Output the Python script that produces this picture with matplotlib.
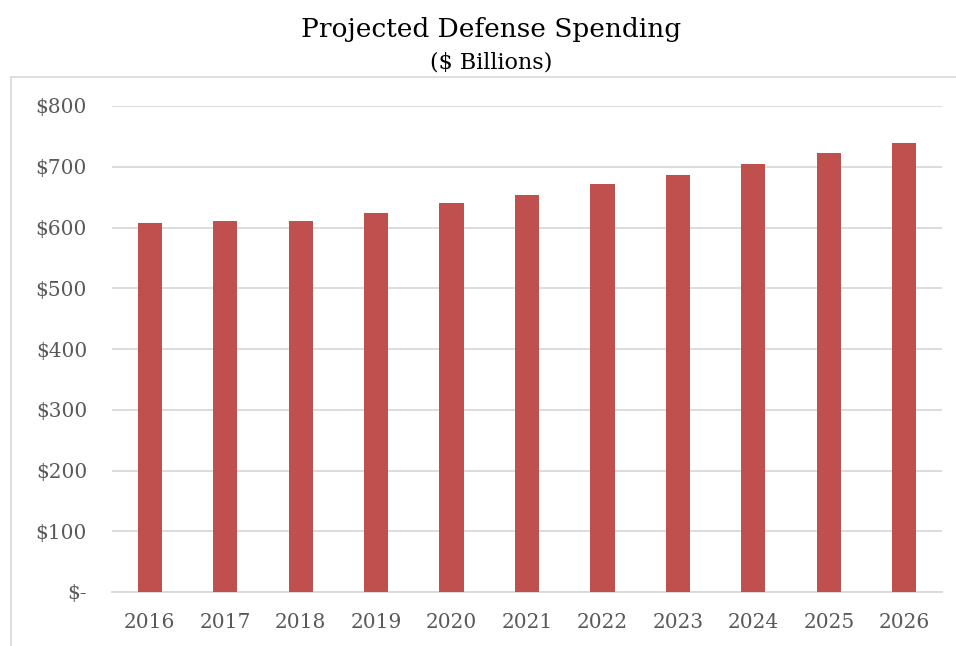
import matplotlib
matplotlib.use("Agg")
import matplotlib.pyplot as plt
from matplotlib.lines import Line2D
from matplotlib.ticker import FixedLocator

years = ["2016", "2017", "2018", "2019", "2020", "2021", "2022", "2023", "2024", "2025", "2026"]
spending = [607, 611, 610, 624, 640, 654, 671, 687, 704, 722, 739]
yticks = [0, 100, 200, 300, 400, 500, 600, 700, 800]
ytick_labels = ["$-", "$100", "$200", "$300", "$400", "$500", "$600", "$700", "$800"]

plt.rcParams['font.family'] = ['DejaVu Serif']

fig = plt.figure(figsize=(9.56, 6.46), dpi=100)
# chart-area border (only left and top edges visible in the reference)
fig.lines.append(Line2D([11/956, 11/956], [0, 1-77/646], transform=fig.transFigure,
                        color="#d9d9d9", linewidth=1.2))
fig.lines.append(Line2D([11/956, 1], [1-77/646, 1-77/646], transform=fig.transFigure,
                        color="#d9d9d9", linewidth=1.2))

ax = fig.add_axes([112/956, 1-592/646, 830/956, (592-106)/646])

x = list(range(len(years)))
ax.bar(x, spending, width=0.32, color="#c0504d", zorder=3)

ax.set_xlim(-0.5, len(years) - 0.5)
ax.set_ylim(0, 800)
ax.set_xticks(x)
ax.set_xticklabels(years)
ax.yaxis.set_major_locator(FixedLocator(yticks))
ax.set_yticklabels(ytick_labels)
ax.grid(axis="y", color="#d9d9d9", linewidth=1.3, zorder=0)
for s in ["top", "right", "left"]:
    ax.spines[s].set_visible(False)
ax.spines["bottom"].set_color("#d9d9d9")
ax.spines["bottom"].set_linewidth(1.3)
ax.tick_params(axis="both", length=0, labelsize=14.5, colors="#595959")
ax.tick_params(axis="x", pad=15)
ax.tick_params(axis="y", pad=18)

fig.text(491/956, 1-30/646, "Projected Defense Spending", ha="center", va="center",
         fontsize=19, color="black")
fig.text(491/956, 1-63/646, "($ Billions)", ha="center", va="center",
         fontsize=16, color="black")

fig.savefig("out.png", dpi=100)
